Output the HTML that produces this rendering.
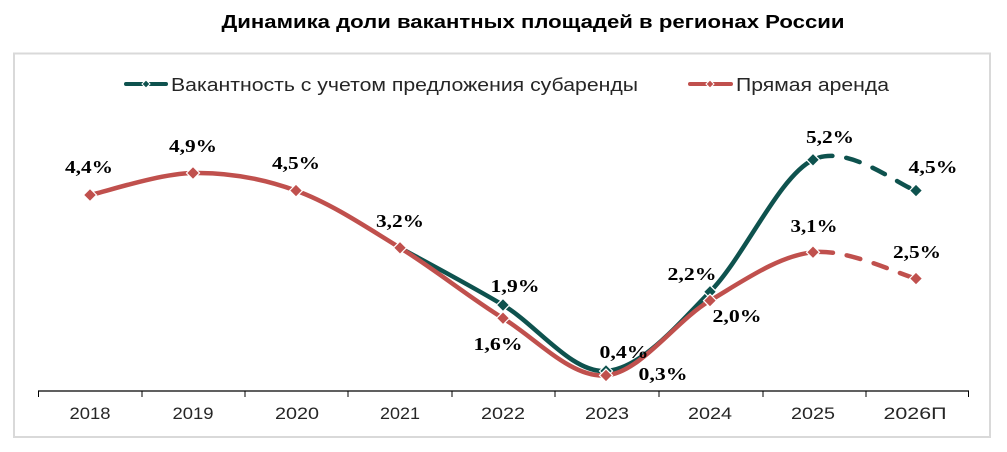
<!DOCTYPE html>
<html><head><meta charset="utf-8"><style>
html,body{margin:0;padding:0;background:#fff;}
svg{display:block;}
.lbl{font-family:"Liberation Serif","DejaVu Serif",serif;font-weight:bold;font-size:18px;fill:#000;}
.ax{font-family:"Liberation Sans","DejaVu Sans",sans-serif;font-size:17px;fill:#262626;}
.lg{font-family:"Liberation Sans","DejaVu Sans",sans-serif;font-size:18px;fill:#262626;}
</style></head><body>
<svg width="1007" height="452" viewBox="0 0 1007 452" xmlns="http://www.w3.org/2000/svg">
<rect x="0" y="0" width="1007" height="452" fill="#fff"/>
<text x="533" y="28" text-anchor="middle" font-family="'Liberation Sans','DejaVu Sans',sans-serif" font-weight="bold" font-size="18" fill="#000" textLength="623" lengthAdjust="spacingAndGlyphs">Динамика доли вакантных площадей в регионах России</text>
<rect x="14" y="53.5" width="976" height="383.5" fill="none" stroke="#d9d9d9" stroke-width="2"/>
<!-- legend -->
<line x1="126" y1="84" x2="166" y2="84" stroke="#0e524e" stroke-width="4" stroke-linecap="round"/>
<polygon points="146,80 150,84 146,88 142,84" fill="#0e524e" stroke="#fff" stroke-width="1"/>
<text class="lg" x="171" y="91" textLength="467" lengthAdjust="spacingAndGlyphs">Вакантность с учетом предложения субаренды</text>
<line x1="690" y1="84" x2="731" y2="84" stroke="#c0504d" stroke-width="4" stroke-linecap="round"/>
<polygon points="710,80 714,84 710,88 706,84" fill="#c0504d" stroke="#fff" stroke-width="1"/>
<text class="lg" x="736" y="91" textLength="153" lengthAdjust="spacingAndGlyphs">Прямая аренда</text>
<!-- axis -->
<line x1="38" y1="391" x2="969" y2="391" stroke="#000" stroke-width="1.3"/>
<g stroke="#000" stroke-width="1">
<line x1="38.5" y1="391" x2="38.5" y2="397"/><line x1="142" y1="391" x2="142" y2="397"/><line x1="245" y1="391" x2="245" y2="397"/><line x1="348" y1="391" x2="348" y2="397"/><line x1="452" y1="391" x2="452" y2="397"/><line x1="555" y1="391" x2="555" y2="397"/><line x1="659" y1="391" x2="659" y2="397"/><line x1="763" y1="391" x2="763" y2="397"/><line x1="866" y1="391" x2="866" y2="397"/><line x1="968.5" y1="391" x2="968.5" y2="397"/>
</g>
<g class="ax" text-anchor="middle">
<text x="90" y="419" textLength="41" lengthAdjust="spacingAndGlyphs">2018</text>
<text x="193" y="419" textLength="41" lengthAdjust="spacingAndGlyphs">2019</text>
<text x="297" y="419" textLength="44" lengthAdjust="spacingAndGlyphs">2020</text>
<text x="400" y="419" textLength="40" lengthAdjust="spacingAndGlyphs">2021</text>
<text x="503" y="419" textLength="44" lengthAdjust="spacingAndGlyphs">2022</text>
<text x="607" y="419" textLength="44" lengthAdjust="spacingAndGlyphs">2023</text>
<text x="710" y="419" textLength="44" lengthAdjust="spacingAndGlyphs">2024</text>
<text x="813" y="419" textLength="44" lengthAdjust="spacingAndGlyphs">2025</text>
<text x="915" y="419" textLength="63" lengthAdjust="spacingAndGlyphs">2026П</text>
</g>
<!-- green series -->
<path d="M400,247.8 C417.2,257.3 468.7,284.5 503,305 C537.3,325.5 571.5,373.2 606,371 C640.5,368.8 675.5,327 710,291.8 C744.5,256.6 778.7,176.7 813,159.8" fill="none" stroke="#0e524e" stroke-width="4.5" stroke-linejoin="round"/>
<path d="M813,159.8 C847.3,142.9 898.8,185.5 916,190.6" fill="none" stroke="#0e524e" stroke-width="4.5" stroke-dasharray="14 14" stroke-dashoffset="-6" stroke-linecap="round"/>
<!-- red series -->
<path d="M90,195 C107.2,191.3 158.7,173.7 193,173 C227.3,172.3 261.5,178.1 296,190.6 C330.5,203.1 365.5,226.5 400,247.8 C434.5,269.1 468.7,296.9 503,318.2 C537.3,339.5 571.5,378.3 606,375.4 C640.5,372.5 675.5,321.1 710,300.6 C744.5,280.1 778.7,255.9 813,252.2" fill="none" stroke="#c0504d" stroke-width="4.5" stroke-linejoin="round"/>
<path d="M813,252.2 C847.3,248.5 898.8,274.2 916,278.6" fill="none" stroke="#c0504d" stroke-width="4.5" stroke-dasharray="14 14" stroke-dashoffset="-6" stroke-linecap="round"/>
<!-- green markers -->
<g fill="#0e524e" stroke="#fff" stroke-width="1.2">
<polygon points="503,298.5 509.5,305 503,311.5 496.5,305"/>
<polygon points="606,364.5 612.5,371 606,377.5 599.5,371"/>
<polygon points="710,285.3 716.5,291.8 710,298.3 703.5,291.8"/>
<polygon points="813,153.3 819.5,159.8 813,166.3 806.5,159.8"/>
<polygon points="916,184.1 922.5,190.6 916,197.1 909.5,190.6"/>
</g>
<!-- red markers -->
<g fill="#c0504d" stroke="#fff" stroke-width="1.2">
<polygon points="90,188.5 96.5,195 90,201.5 83.5,195"/>
<polygon points="193,166.5 199.5,173 193,179.5 186.5,173"/>
<polygon points="296,184.1 302.5,190.6 296,197.1 289.5,190.6"/>
<polygon points="400,241.3 406.5,247.8 400,254.3 393.5,247.8"/>
<polygon points="503,311.7 509.5,318.2 503,324.7 496.5,318.2"/>
<polygon points="606,368.9 612.5,375.4 606,381.9 599.5,375.4"/>
<polygon points="710,294.1 716.5,300.6 710,307.1 703.5,300.6"/>
<polygon points="813,245.7 819.5,252.2 813,258.7 806.5,252.2"/>
<polygon points="916,272.1 922.5,278.6 916,285.1 909.5,278.6"/>
</g>
<!-- data labels -->
<g class="lbl" text-anchor="middle">
<text x="89" y="173" textLength="48" lengthAdjust="spacingAndGlyphs">4,4%</text>
<text x="193" y="152" textLength="48" lengthAdjust="spacingAndGlyphs">4,9%</text>
<text x="296" y="169" textLength="48" lengthAdjust="spacingAndGlyphs">4,5%</text>
<text x="400" y="227" textLength="48" lengthAdjust="spacingAndGlyphs">3,2%</text>
<text x="515" y="292" textLength="49" lengthAdjust="spacingAndGlyphs">1,9%</text>
<text x="498" y="350" textLength="49" lengthAdjust="spacingAndGlyphs">1,6%</text>
<text x="624" y="358" textLength="49" lengthAdjust="spacingAndGlyphs">0,4%</text>
<text x="663" y="380" textLength="49" lengthAdjust="spacingAndGlyphs">0,3%</text>
<text x="692" y="280" textLength="49" lengthAdjust="spacingAndGlyphs">2,2%</text>
<text x="737" y="322" textLength="49" lengthAdjust="spacingAndGlyphs">2,0%</text>
<text x="830" y="143" textLength="48" lengthAdjust="spacingAndGlyphs">5,2%</text>
<text x="933" y="173" textLength="49" lengthAdjust="spacingAndGlyphs">4,5%</text>
<text x="814" y="232" textLength="47" lengthAdjust="spacingAndGlyphs">3,1%</text>
<text x="917" y="258" textLength="48" lengthAdjust="spacingAndGlyphs">2,5%</text>
</g>
</svg>
</body></html>
